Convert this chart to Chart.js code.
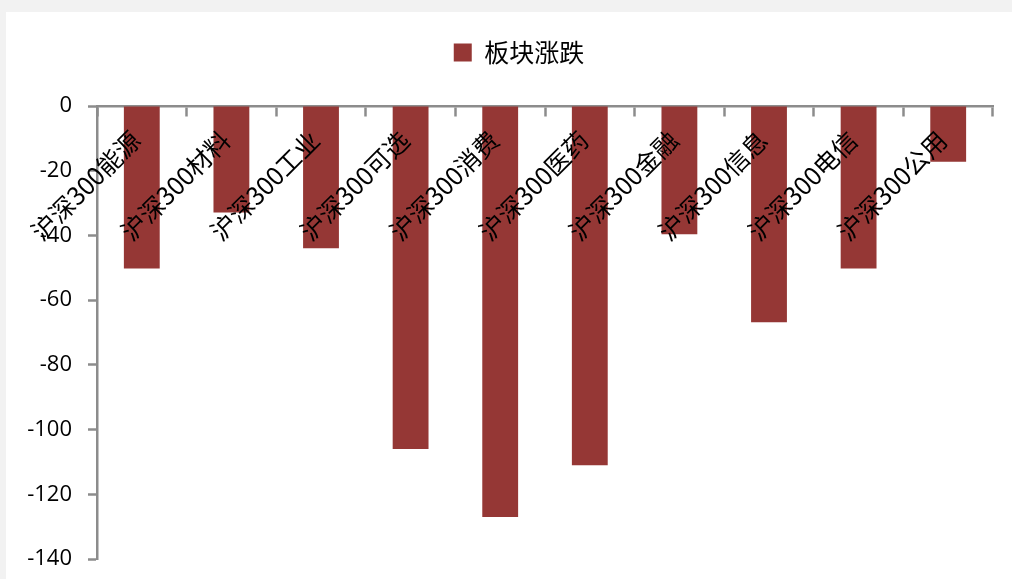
<!DOCTYPE html>
<html>
<head>
<meta charset="utf-8">
<script src="https://cdn.jsdelivr.net/npm/chart.js@4.4.0/dist/chart.umd.min.js"></script>
<style>
  html, body { margin: 0; padding: 0; background: #f2f2f2; }
  #box { position: absolute; left: 6px; top: 12px; width: 1006px; height: 567px; background: #fff; }
</style>
</head>
<body>
<div id="box"><canvas id="barChart"></canvas></div>
<script>
const categories = ['沪深300能源', '沪深300材料', '沪深300工业', '沪深300可选', '沪深300消费',
                    '沪深300医药', '沪深300金融', '沪深300信息', '沪深300电信', '沪深300公用'];
const changes = [-50.2, -32.9, -44, -106, -127, -111, -39.6, -66.8, -50.2, -17.2];
const seriesName = '板块涨跌';
const yMin = -140, yMax = 0, yStep = 20;

document.addEventListener('DOMContentLoaded', function() {
    drawBarChart();
});

// nudge the legend: Excel puts it a bit right of centre and higher above the plot
const legendShift = {
    id: 'legendShift',
    afterLayout: function(chart) {
        const lg = chart.legend;
        lg.left += 39;
        lg.top -= 31;
        lg.bottom -= 31;
    }
};

function drawBarChart() {
    const ctx = document.getElementById('barChart').getContext('2d');
    const axisGrey = '#8c8c8c';
    new Chart(ctx, {
        type: 'bar',
        data: {
            labels: categories,
            datasets: [{
                label: seriesName,
                data: changes,
                backgroundColor: '#953735',
                borderWidth: 0,
                categoryPercentage: 1,
                barPercentage: 0.4
            }]
        },
        plugins: [legendShift],
        options: {
            responsive: true,
            maintainAspectRatio: false,
            animation: false,
            layout: { padding: { top: 49, left: 0, right: 19, bottom: 0 } },
            plugins: {
                tooltip: { enabled: false },
                legend: {
                    position: 'top',
                    labels: {
                        boxWidth: 18,
                        boxHeight: 18,
                        color: '#000',
                        padding: 10,
                        font: { family: 'Noto Sans CJK SC', size: 25 }
                    }
                }
            },
            scales: {
                x: {
                    position: { y: 0 },
                    grid: {
                        offset: true,
                        drawOnChartArea: false,
                        drawTicks: true,
                        tickLength: 9,
                        tickWidth: 2.5,
                        tickColor: axisGrey
                    },
                    border: { color: axisGrey, width: 2.5 },
                    ticks: {
                        z: 1,
                        autoSkip: false,
                        minRotation: 45,
                        maxRotation: 45,
                        padding: 10,
                        labelOffset: -6,
                        color: '#000',
                        font: { family: 'Noto Sans CJK SC', size: 25 }
                    }
                },
                y: {
                    min: yMin,
                    max: yMax,
                    afterFit: function(scale) {
                        scale.width = 91;
                        scale.paddingBottom = 20;
                    },
                    grid: {
                        drawOnChartArea: false,
                        drawTicks: true,
                        tickLength: 9,
                        tickWidth: 2.5,
                        tickColor: axisGrey
                    },
                    border: { color: axisGrey, width: 2.5 },
                    ticks: {
                        stepSize: yStep,
                        padding: 16,
                        color: '#000',
                        font: { family: 'Open Sans', size: 22 }
                    }
                }
            }
        }
    });
}
</script>
</body>
</html>
